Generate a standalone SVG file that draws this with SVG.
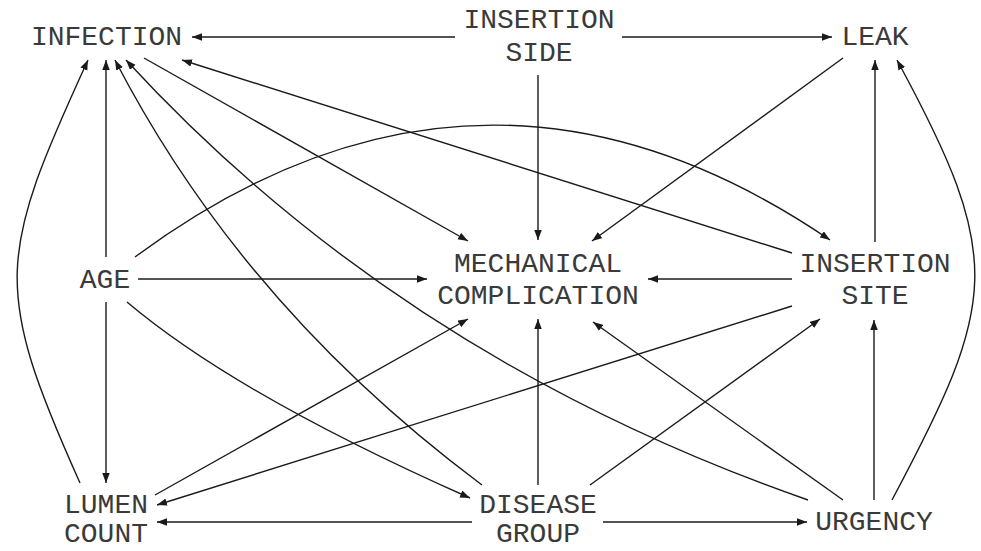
<svg xmlns="http://www.w3.org/2000/svg" width="981" height="551" viewBox="0 0 981 551">
<defs>
<marker id="arr" markerUnits="userSpaceOnUse" markerWidth="11" markerHeight="8" refX="10" refY="3.75" orient="auto">
<path d="M0,0 L10,3.75 L0,7.5 z" fill="#1a1a1a"/>
</marker>
<style>
.e{fill:none;stroke:#1a1a1a;stroke-width:1.4;marker-end:url(#arr)}
.t{font-family:"Liberation Mono","Courier New",monospace;font-size:28px;fill:#3a3a3a;text-anchor:middle}
</style>
</defs>
<rect width="981" height="551" fill="#fff"/>
<g id="edges">
<path class="e" d="M455,37 L192,37"/>
<path class="e" d="M622,37 L832,37"/>
<path class="e" d="M538,75 L538,240"/>
<path class="e" d="M843,58 L592,241"/>
<path class="e" d="M875,242 L875,60"/>
<path class="e" d="M892,500 C998,301 1005,259 897,60"/>
<path class="e" d="M144,58 L468,241"/>
<path class="e" d="M792,253 L182,60"/>
<path class="e" d="M135,257 Q480,2 830,240"/>
<path class="e" d="M106,257 L106,60"/>
<path class="e" d="M138,279 L427,279"/>
<path class="e" d="M106,302 L106,483"/>
<path class="e" d="M127,302 Q237,395 470,498"/>
<path class="e" d="M80,483 C-8,287 -2,256 88,60"/>
<path class="e" d="M155,495 L468,319"/>
<path class="e" d="M792,306 L157,505"/>
<path class="e" d="M472,522 L157,522"/>
<path class="e" d="M603,522 L807,522"/>
<path class="e" d="M538,485 L538,319"/>
<path class="e" d="M590,485 L820,319"/>
<path class="e" d="M482,485 Q243,307 115,60"/>
<path class="e" d="M874,500 L874,320"/>
<path class="e" d="M792,279 L648,279"/>
<path class="e" d="M843,500 L593,322"/>
<path class="e" d="M808,500 Q400,358 126,60"/>
</g>
<g id="infection"><text class="t" x="106.5" y="45">INFECTION</text></g>
<g id="insertion_side"><text class="t" x="539" y="28">INSERTION</text><text class="t" x="539" y="61">SIDE</text></g>
<g id="leak"><text class="t" x="875" y="45">LEAK</text></g>
<g id="age"><text class="t" x="105" y="288">AGE</text></g>
<g id="mechanical"><text class="t" x="538" y="272">MECHANICAL</text><text class="t" x="538" y="304">COMPLICATION</text></g>
<g id="insertion_site"><text class="t" x="875" y="272">INSERTION</text><text class="t" x="875" y="304">SITE</text></g>
<g id="lumen"><text class="t" x="106" y="513">LUMEN</text><text class="t" x="106" y="542">COUNT</text></g>
<g id="disease"><text class="t" x="538" y="513">DISEASE</text><text class="t" x="538" y="542">GROUP</text></g>
<g id="urgency"><text class="t" x="874" y="530">URGENCY</text></g>
</svg>
